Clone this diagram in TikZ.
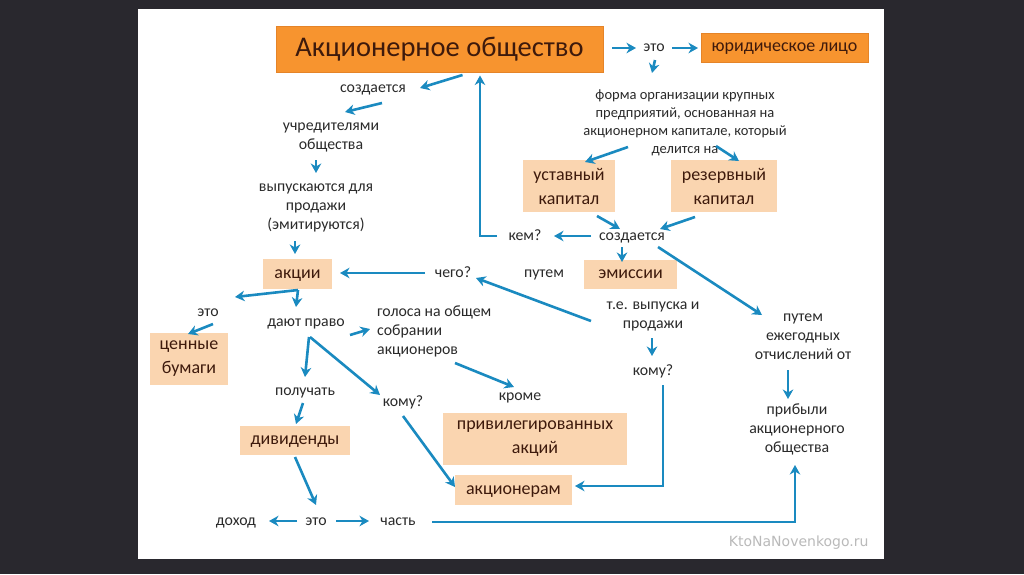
\documentclass[tikz,border=0pt]{standalone}
\usepackage{fontspec}
\setmainfont{Carlito}
\newfontfamily\wmfont{DejaVu Sans}
\usetikzlibrary{calc,arrows.meta}
\definecolor{aobg}{HTML}{29282E}
\definecolor{aoorange}{HTML}{F7942F}
\definecolor{aoedge}{HTML}{E58428}
\definecolor{aopeach}{HTML}{FAD5B0}
\definecolor{aoblue}{HTML}{1A8AC0}
\definecolor{aotext}{HTML}{2A2A2A}
\definecolor{aobrown}{HTML}{3E1A0C}
\tikzset{
		>={Stealth[length=9.5pt,width=10.5pt,inset=3pt]},
		txt/.style={text=aotext,align=center,inner sep=1pt,
			font=\fontsize{15.8}{19}\selectfont},
		oneline/.style={text height=#1,text depth=1.6pt},
		oneline/.default=9pt,
		titlebox/.style={fill=aoorange,draw=aoedge,line width=1pt,text=aobrown,
			inner sep=0pt},
		hbox/.style={fill=aopeach,text=aobrown,align=center,inner sep=0pt,
			font=\fontsize{18}{24}\selectfont},
		arr/.style={->,draw=aoblue,line width=2.6pt}
	}
\begin{document}
\begin{tikzpicture}[x=1pt,y=-1pt]
          \useasboundingbox (0,0) rectangle (1024,574);
          \fill[aobg] (0,0) rectangle (1024,574);
          \fill[white] (138,9) rectangle (884,559);

          % top row
          \node[titlebox,minimum width=327,minimum height=46,oneline=16pt,
            font=\fontsize{28.5}{30}\selectfont] (ao) at (439.5,49) {Акционерное общество};
          \node[txt,oneline] (eto1) at (654,48) {это};
          \node[titlebox,minimum width=167,minimum height=29,oneline=10pt,
            font=\fontsize{18}{20}\selectfont] (jur) at (784.5,47.5) {юридическое лицо};
          \node[txt,font=\fontsize{14.5}{18}\selectfont] (forma) at (685,123)
            {форма организации крупных\\предприятий, основанная на\\акционерном капитале, который\\делится на};

          % capital
          \node[hbox,minimum width=92,minimum height=52] (ustav) at (569,186) {уставный\\капитал};
          \node[hbox,minimum width=106,minimum height=52] (rezerv) at (724,186) {резервный\\капитал};
          \node[txt,oneline] (sozd2) at (632,237) {создается};
          \node[txt,oneline] (kem) at (525,237) {кем?};
          \node[hbox,oneline=10pt,minimum width=93,minimum height=29] (emis) at (630.5,274.5) {эмиссии};
          \node[txt,oneline] (putem1) at (544,274) {путем};
          \node[txt] (teVyp) at (653,316) {т.е. выпуска и\\продажи};
          \node[txt,oneline] (komu2) at (653,372) {кому?};
          \node[txt] (putem2) at (803,337) {путем\\ежегодных\\отчислений от};
          \node[txt] (pribyli) at (797,429) {прибыли\\акционерного\\общества};

          % left column
          \node[txt,oneline] (sozd1) at (373,89) {создается};
          \node[txt] (uchr) at (331,137) {учредителями\\общества};
          \node[txt] (vypusk) at (316,208) {выпускаются для\\продажи\\(эмитируются)};
          \node[hbox,oneline=10pt,minimum width=69,minimum height=30] (akcii) at (297.5,274) {акции};
          \node[txt,oneline] (chego) at (453,274) {чего?};
          \node[txt,oneline] (eto2) at (208,313) {это};
          \node[hbox,minimum width=78,minimum height=52] (cennye) at (189,359) {ценные\\бумаги};
          \node[txt,oneline] (dayut) at (306,323) {дают право};
          \node[txt,align=left,anchor=west] (golosa) at (376,331) {голоса на общем\\собрании\\акционеров};
          \node[txt,oneline] (poluch) at (305,392) {получать};
          \node[hbox,oneline=10pt,minimum width=110,minimum height=29] (divid) at (295,440.5) {дивиденды};
          \node[txt,oneline] (komu1) at (403,403) {кому?};
          \node[txt,oneline] (kroma) at (520,397) {кроме};
          \node[hbox,minimum width=184,minimum height=52] (privil) at (535,439) {привилегированных\\акций};
          \node[hbox,oneline=10pt,minimum width=117,minimum height=30] (akcioneram) at (513.5,490) {акционерам};
          \node[txt,oneline] (dohod) at (236,522) {доход};
          \node[txt,oneline] (eto3) at (316,522) {это};
          \node[txt,oneline] (chast) at (398,522) {часть};

          \node[anchor=east,text=black!27,font=\wmfont\fontsize{14}{16}\selectfont] (wm) at (872,543) {KtoNaNovenkogo.ru};

          % arrows, top and right
          \draw[arr] ($(ao)+(172.5,-1)$) -- ($(eto1)+(-18,0)$);
          \draw[arr] ($(eto1)+(18,0)$) -- ($(jur)+(-86.5,0.5)$);
          \draw[arr] ($(eto1)+(1,12)$) -- ($(forma)+(-33,-50)$);
          \draw[arr] ($(forma)+(-57,24)$) -- ($(ustav)+(16,-24)$);
          \draw[arr] ($(forma)+(31,23)$) -- ($(rezerv)+(15,-25)$);
          \draw[arr] ($(ustav)+(28,30)$) -- ($(sozd2)+(-12,-8)$);
          \draw[arr] ($(rezerv)+(-29,31)$) -- ($(sozd2)+(28,-8)$);
          \draw[arr] ($(sozd2)+(-41,-1)$) -- ($(kem)+(29,-1)$);
          \draw[arr] ($(kem)+(-28,-1)$) -| ($(ao.south)+(40.5,3)$);
          \draw[arr] ($(sozd2)+(-10,10)$) -- ($(emis)+(-8.5,-12.5)$);
          \draw[arr] ($(sozd2)+(26,10)$) -- ($(putem2)+(-41,-22)$);
          \draw[arr] ($(teVyp)+(-62,5)$) -- ($(chego)+(23,4)$);
          \draw[arr] ($(teVyp)+(-1,22)$) -- ($(komu2)+(-1,-16)$);
          \draw[arr] ($(komu2)+(10,13)$) |- ($(akcioneram)+(61.5,-4)$);
          \draw[arr] ($(putem2)+(-15,33)$) -- ($(pribyli)+(-9,-30)$);
          \draw[arr] ($(chast)+(34,0)$) -| ($(pribyli)+(-2,36)$);

          % arrows, left
          \draw[arr] ($(ao)+(23,26)$) -- ($(sozd1)+(47,-1)$);
          \draw[arr] ($(sozd1)+(9,14)$) -- ($(uchr)+(14,-25)$);
          \draw[arr] ($(uchr)+(-15,23)$) -- ($(vypusk)+(0,-35)$);
          \draw[arr] ($(vypusk)+(-21,33)$) -- ($(akcii)+(-2.5,-20)$);
          \draw[arr] ($(chego)+(-28,-1)$) -- ($(akcii)+(42.5,-1)$);
          \draw[arr] ($(akcii)+(0.5,16)$) -- ($(eto2)+(27,-16)$);
          \draw[arr] ($(akcii)+(0.5,16)$) -- ($(dayut)+(-10,-16)$);
          \draw[arr] ($(eto2)+(5,11)$) -- ($(cennye)+(-1,-25)$);
          \draw[arr] ($(dayut)+(44,12)$) -- ($(golosa.west)+(-6,-2)$);
          \draw[arr] ($(dayut)+(3,14)$) -- ($(poluch)+(0,-15)$);
          \draw[arr] ($(dayut)+(4,14)$) -- ($(komu1)+(-23,-8)$);
          \draw[arr] ($(golosa.west)+(79,32)$) -- ($(kroma)+(-6,-10)$);
          \draw[arr] ($(komu1)+(0,13)$) -- ($(akcioneram)+(-58.5,-3)$);
          \draw[arr] ($(poluch)+(-2,11)$) -- ($(divid)+(1,-16.5)$);
          \draw[arr] ($(divid)+(0,16.5)$) -- ($(eto3)+(0,-17)$);
          \draw[arr] ($(eto3)+(-19,-1)$) -- ($(dohod)+(33,-1)$);
          \draw[arr] ($(eto3)+(20,-1)$) -- ($(chast)+(-29,-1)$);
\end{tikzpicture}
\end{document}
